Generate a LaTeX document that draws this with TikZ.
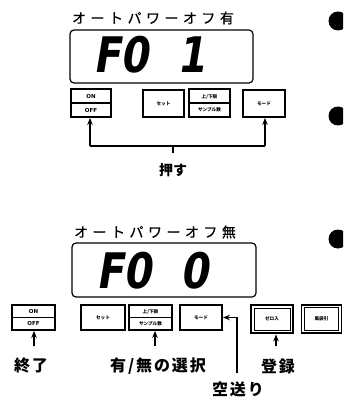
\documentclass[tikz,border=0pt]{standalone}
\usepackage{fontspec}
\newfontfamily\jp{Noto Sans CJK JP}
\newfontfamily\jpwide{Noto Sans CJK JP}[LetterSpace=32,FakeBold=0.6]
\newfontfamily\jplbl{Noto Sans CJK JP}[LetterSpace=12]
\newfontfamily\seg{DejaVu Sans}[FakeSlant=0.2]
\newfontfamily\keyfont{DejaVu Sans}
\usetikzlibrary{arrows.meta}
\begin{document}
\begin{tikzpicture}[x=1pt,y=-1pt,
  disp/.style={draw, line width=1.2pt, rounded corners=4pt, inner sep=0pt},
  digits/.style={inner sep=0pt, xscale=0.82, transform shape, font=\seg\bfseries\fontsize{49}{49}\selectfont},
  ttl/.style={inner sep=0pt, font=\jpwide\fontsize{14}{14}\selectfont},
  keybox/.style={draw, line width=1.8pt, inner sep=0pt},
  heavykey/.style={draw, line width=2.8pt, inner sep=0pt},
  ktxt/.style={inner sep=0pt, font=\jp\bfseries\fontsize{4.6}{5}\selectfont},
  ltxt/.style={inner sep=0pt, font=\keyfont\bfseries\fontsize{5.5}{6}\selectfont},
  conn/.style={line width=1.6pt},
  arr/.style={conn, -{Stealth[length=7pt,width=5.5pt]}},
  lblA/.style={inner sep=0pt, font=\jp\bfseries\fontsize{14}{14}\selectfont},
  lblB/.style={inner sep=0pt, font=\jplbl\bfseries\fontsize{16}{16}\selectfont}
]
\useasboundingbox (0,0) rectangle (343,398);

% bullets at right edge
\begin{scope}
  \clip (0,0) rectangle (343,398);
  \fill (338,21) circle (9.5);
  \fill (338,116) circle (9.5);
  \fill (338,239) circle (9.5);
\end{scope}

% ---------- upper part ----------
\node[ttl] (titleA) at (153,18) {オートパワーオフ有};
\node[disp, minimum width=183pt, minimum height=53pt] (dispA) at (161.5,56.5) {};
\node[digits, anchor=base west] (digA) at (93,73) {F0\hspace{0.72em}1};

\node[keybox, minimum width=40pt, minimum height=28pt] (onoffA) at (91,103) {};
\draw[line width=1.4pt] (onoffA.west) -- (onoffA.east);
\node[ltxt] (onA) at (91,96.5) {ON};
\node[ltxt] (offA) at (91,110) {OFF};

\node[keybox, minimum width=41pt, minimum height=27pt] (setA) at (163.5,103.5) {};
\node[ktxt] (setAt) at (163.5,103.5) {セット};

\node[keybox, minimum width=41pt, minimum height=28pt] (limA) at (209.5,103) {};
\draw[line width=1.4pt] (limA.west) -- (limA.east);
\node[ktxt] (limAt1) at (209.5,96.5) {上/下限};
\node[ktxt] (limAt2) at (209.5,110) {サンプル数};

\node[keybox, minimum width=42pt, minimum height=27pt] (modeA) at (264,103.5) {};
\node[ktxt] (modeAt) at (264,103.5) {モード};

\coordinate (cL) at (90,146);
\coordinate (cR) at (265,146);
\coordinate (cM) at (173,146);
\coordinate (cM2) at (173,153);
\draw[conn] (cL) -- (cR);
\draw[arr] (cL) -- (cL |- onoffA.south);
\draw[arr] (cR) -- (cR |- modeA.south);
\draw[conn] (cM) -- (cM2);
\node[lblA] (push) at (173,170) {押す};

% ---------- lower part ----------
\node[ttl] (titleB) at (155,232) {オートパワーオフ無};
\node[disp, minimum width=184pt, minimum height=54pt] (dispB) at (164,270) {};
\node[digits, anchor=base west] (digB) at (96,288) {F0\hspace{0.72em}0};

\node[keybox, minimum width=43pt, minimum height=25pt] (onoffB) at (33.5,317.5) {};
\draw[line width=1.4pt] (onoffB.west) -- (onoffB.east);
\node[ltxt] (onB) at (33.5,311.5) {ON};
\node[ltxt] (offB) at (33.5,323.5) {OFF};

\node[keybox, minimum width=44pt, minimum height=25pt] (setB) at (103,317.5) {};
\node[ktxt] (setBt) at (103,317.5) {セット};

\node[keybox, minimum width=43pt, minimum height=25pt] (limB) at (150.5,317.5) {};
\draw[line width=1.4pt] (limB.west) -- (limB.east);
\node[ktxt] (limBt1) at (150.5,311.5) {上/下限};
\node[ktxt] (limBt2) at (150.5,323.5) {サンプル数};

\node[keybox, minimum width=42pt, minimum height=25pt] (modeB) at (201,317.5) {};
\node[ktxt] (modeBt) at (201,317.5) {モード};

\node[heavykey, minimum width=42pt, minimum height=28pt] (zeroB) at (272,319) {};
\draw[line width=0.8pt] ([xshift=4.5pt,yshift=-4.5pt]zeroB.north west) rectangle ([xshift=-4.5pt,yshift=4.5pt]zeroB.south east);
\node[ktxt] (zeroBt) at (272,319) {ゼロ入};

\node[draw, line width=1.6pt, inner sep=0pt, minimum width=40pt, minimum height=28pt] (tareB) at (321.5,319) {};
\draw[line width=1pt] ([xshift=3.5pt,yshift=-3.5pt]tareB.north west) rectangle ([xshift=-3.5pt,yshift=3.5pt]tareB.south east);
\node[ktxt] (tareBt) at (321.5,319) {風袋引};

\coordinate (e1) at (34,346);
\coordinate (e2) at (155,346);
\coordinate (e3) at (276,346);
\coordinate (e4) at (237,373);
\draw[arr] (e1) -- (e1 |- onoffB.south);
\draw[arr] (e2) -- (e2 |- limB.south);
\draw[arr] (e3) -- (e3 |- zeroB.south);
\draw[arr] (e4) |- (modeB.east);

\node[lblB] (endl) at (31,366) {終了};
\node[lblB] (sel) at (158,366) {有/無の選択};
\node[lblB] (reg) at (278,366) {登録};
\node[lblB] (feed) at (238,389) {空送り};
\end{tikzpicture}
\end{document}
